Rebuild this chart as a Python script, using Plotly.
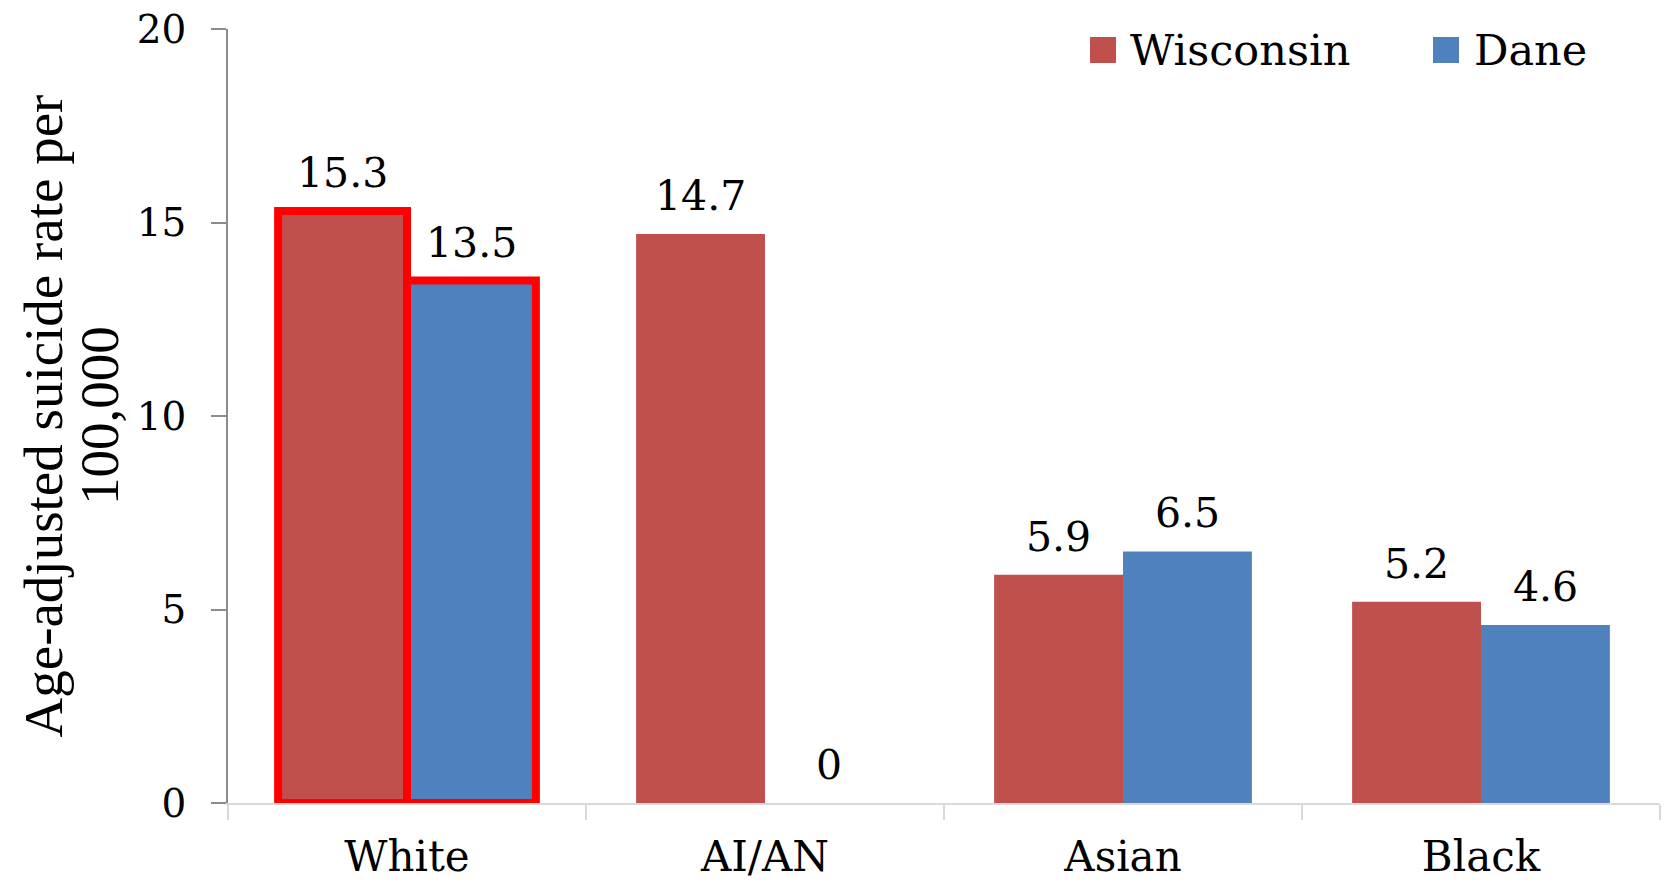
import plotly.graph_objects as go

# Age-adjusted suicide rates by race
categories = ["White", "AI/AN", "Asian", "Black"]
series_names = ["Wisconsin", "Dane"]
wisconsin = [15.3, 14.7, 5.9, 5.2]
dane = [13.5, 0, 6.5, 4.6]
highlight = ["White"]

colors = {"Wisconsin": "#C0504D", "Dane": "#4F81BD"}
label_font = "DejaVu Serif"
title_font = "Liberation Serif"

W, H = 1667, 887
M_L, M_R, M_T, M_B = 228, 7, 29, 84
BARGAP = 0.28

fig = go.Figure()

for name, vals in zip(series_names, [wisconsin, dane]):
    line_w = [8 if c in highlight else 0 for c in categories]
    fig.add_trace(go.Bar(
        x=categories,
        y=vals,
        name=name,
        marker=dict(color=colors[name], line=dict(color="#FF0000", width=line_w)),
        showlegend=False,
    ))

# value labels above each bar
bar_w = (1 - BARGAP) / len(series_names)
annotations = []
for k, (name, vals) in enumerate(zip(series_names, [wisconsin, dane])):
    offset = (k - (len(series_names) - 1) / 2) * bar_w
    for i, v in enumerate(vals):
        annotations.append(dict(
            x=i + offset, y=v, xref="x", yref="y",
            text=f"{v:g}", showarrow=False,
            yanchor="bottom", xanchor="center", yshift=12,
            font=dict(family=label_font, size=41, color="black"),
        ))

# y-axis title, two lines
plot_w = W - M_L - M_R
for text, px in [("Age-adjusted suicide rate per", 42.5), ("100,000", 99)]:
    annotations.append(dict(
        x=(px - M_L) / plot_w, y=0.5, xref="paper", yref="paper",
        text=text, textangle=-90, showarrow=False,
        xanchor="center", yanchor="middle",
        font=dict(family=title_font, size=55, color="black"),
    ))

# legend
plot_h = H - M_T - M_B
shapes = []
legend_pos = [(1090, 1128), (1433, 1472)]
for name, (sx, tx) in zip(series_names, legend_pos):
    shapes.append(dict(
        type="rect", xref="paper", yref="paper",
        x0=(sx - M_L) / plot_w, x1=(sx + 26 - M_L) / plot_w,
        y0=(H - M_B - 63) / plot_h, y1=(H - M_B - 37) / plot_h,
        fillcolor=colors[name], line=dict(width=0),
    ))
    annotations.append(dict(
        x=(tx - M_L) / plot_w, y=(H - M_B - 50) / plot_h,
        xref="paper", yref="paper", text=name, showarrow=False,
        xanchor="left", yanchor="middle",
        font=dict(family=label_font, size=43, color="black"),
    ))

fig.update_layout(
    width=W, height=H,
    margin=dict(l=M_L, r=M_R, t=M_T, b=M_B),
    paper_bgcolor="white", plot_bgcolor="white",
    barmode="group", bargap=BARGAP, bargroupgap=0,
    annotations=annotations, shapes=shapes,
    showlegend=False,
)
fig.update_xaxes(
    showline=True, linecolor="#D9D9D9", linewidth=1.5,
    ticks="outside", tickson="boundaries", ticklen=15,
    tickcolor="#D9D9D9", tickwidth=1.5,
    showgrid=False, automargin=False,
    ticklabelstandoff=16,
    tickfont=dict(family=label_font, size=42, color="black"),
)
fig.update_yaxes(
    range=[0, 20], dtick=5,
    showline=True, linecolor="#8C8C8C", linewidth=1.5,
    ticks="outside", ticklen=15, tickcolor="#8C8C8C", tickwidth=1.5,
    showgrid=False, zeroline=False, automargin=False,
    ticklabelstandoff=17,
    tickfont=dict(family=label_font, size=39, color="black"),
)

fig.write_html("out.html")
